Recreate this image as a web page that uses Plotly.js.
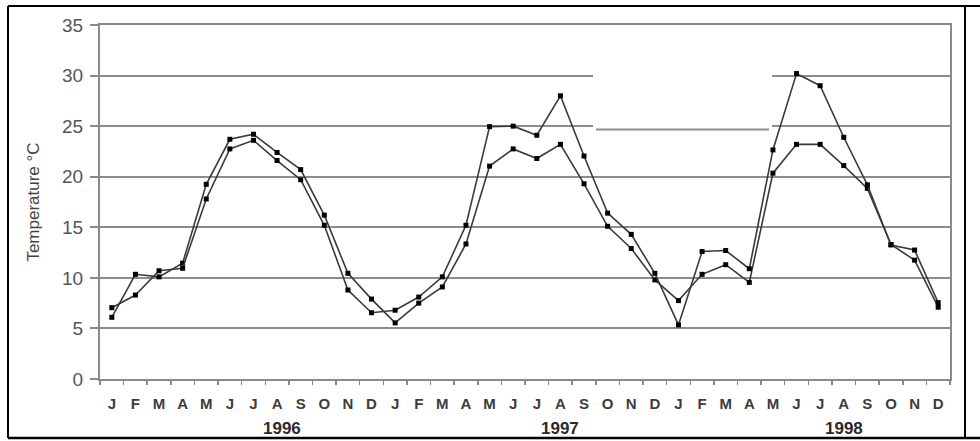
<!DOCTYPE html>
<html>
<head>
<meta charset="utf-8">
<script src="https://cdn.plot.ly/plotly-3.0.1.min.js"></script>
<style>html,body{margin:0;padding:0;background:#fff;}#chart{width:980px;height:441px;}</style>
</head>
<body>
<div id="chart"></div>
<script>
// Month labels (J..D for 1996, 1997, 1998)
const monthLetters = ["J","F","M","A","M","J","J","A","S","O","N","D"];
const years = ["1996","1997","1998"];
const tickLabels = [].concat(monthLetters, monthLetters, monthLetters);
const monthIndex = tickLabels.map((_, i) => i);

// Series values (°C)
const seriesA = [
  6.1, 10.35, 10.1, 11.45, 19.25, 23.7, 24.2, 22.4, 20.7, 16.2, 10.45, 7.9,
  5.55, 7.5, 9.1, 13.35, 21.05, 22.75, 21.8, 23.2, 19.3, 15.1, 12.9, 9.8,
  7.75, 10.35, 11.3, 9.55, 20.35, 23.2, 23.2, 21.1, 18.85, 13.3, 11.75, 7.1
];
const seriesB = [
  7.05, 8.3, 10.7, 10.95, 17.8, 22.75, 23.6, 21.6, 19.7, 15.2, 8.8, 6.55,
  6.8, 8.1, 10.1, 15.2, 24.95, 25.0, 24.1, 28.0, 22.05, 16.4, 14.3, 10.45,
  5.35, 12.6, 12.7, 10.9, 22.65, 30.2, 29.0, 23.9, 19.2, 13.25, 12.75, 7.55
];
const yearLabelMonth = [7.2, 19, 31];

const lineStyle = {color: "#3a3a3a", width: 1.6};
const markerStyle = {symbol: "square", size: 5, color: "#000"};

const traces = [
  {x: monthIndex, y: seriesA, type: "scatter", mode: "lines+markers", line: lineStyle, marker: markerStyle, hoverinfo: "y"},
  {x: monthIndex, y: seriesB, type: "scatter", mode: "lines+markers", line: lineStyle, marker: markerStyle, hoverinfo: "y"}
];

// helpers for paper coords relative to plot area (l=100, r=30, t=25, b=62)
const L = 100, T = 25, PW = 850, PH = 354;
const px = v => (v - L) / PW;
const py = v => (T + PH - v) / PH;

const layout = {
  width: 980, height: 441,
  margin: {l: L, r: 980 - L - PW, t: T, b: 441 - T - PH},
  paper_bgcolor: "#fff", plot_bgcolor: "#fff",
  showlegend: false,
  font: {family: "Liberation Sans, Arial, sans-serif"},
  xaxis: {
    range: [-0.5, 35.5],
    tickmode: "array", tickvals: monthIndex, ticktext: tickLabels,
    ticks: "", ticklabelstandoff: 10,
    tickfont: {size: 15, color: "#3c3c3c", family: "Liberation Sans, Arial, sans-serif", weight: "bold"},
    showgrid: false, zeroline: false,
    showline: true, linecolor: "#8a8a8a", linewidth: 2, mirror: true,
    minor: {tick0: -0.5, dtick: 1, ticks: "outside", ticklen: 4, tickcolor: "#8a8a8a", tickwidth: 1.5, showgrid: false}
  },
  yaxis: {
    range: [0, 35], tickmode: "linear", tick0: 0, dtick: 5,
    ticks: "outside", ticklen: 8, tickcolor: "#8a8a8a", tickwidth: 2,
    ticklabelstandoff: 3,
    tickfont: {size: 19, color: "#555"},
    showgrid: true, gridcolor: "#8c8c8c", gridwidth: 2,
    zeroline: false,
    showline: true, linecolor: "#8a8a8a", linewidth: 2, mirror: true,
    title: {text: "Temperature °C", font: {size: 17, color: "#444"}, standoff: 18}
  },
  annotations: years.map((yr, i) => ({
    x: yearLabelMonth[i], xref: "x", y: py(428), yref: "paper",
    text: "<b>" + yr + "</b>", showarrow: false,
    font: {size: 17, color: "#2a2a2a"}, xanchor: "center", yanchor: "middle"
  })),
  shapes: [
    // white patch (scan artifact) over gridlines
    {type: "rect", xref: "paper", yref: "paper", x0: px(593), x1: px(772), y0: py(127.6), y1: py(47),
     fillcolor: "#fff", line: {width: 0}, layer: "above"},
    {type: "line", xref: "paper", yref: "paper", x0: px(596), x1: px(769), y0: py(129.5), y1: py(129.5),
     line: {color: "#8c8c8c", width: 2}, layer: "above"},
    // outer frame
    {type: "line", xref: "paper", yref: "paper", x0: px(8), x1: px(980), y0: py(6), y1: py(6), line: {color: "#000", width: 2}},
    {type: "line", xref: "paper", yref: "paper", x0: px(8), x1: px(980), y0: py(438), y1: py(438), line: {color: "#000", width: 2.5}},
    {type: "line", xref: "paper", yref: "paper", x0: px(8), x1: px(8), y0: py(6), y1: py(438), line: {color: "#000", width: 2}},
    {type: "line", xref: "paper", yref: "paper", x0: px(965), x1: px(965), y0: py(6), y1: py(438), line: {color: "#000", width: 2}}
  ]
};

Plotly.newPlot("chart", traces, layout, {staticPlot: true, displayModeBar: false});
</script>
</body>
</html>
